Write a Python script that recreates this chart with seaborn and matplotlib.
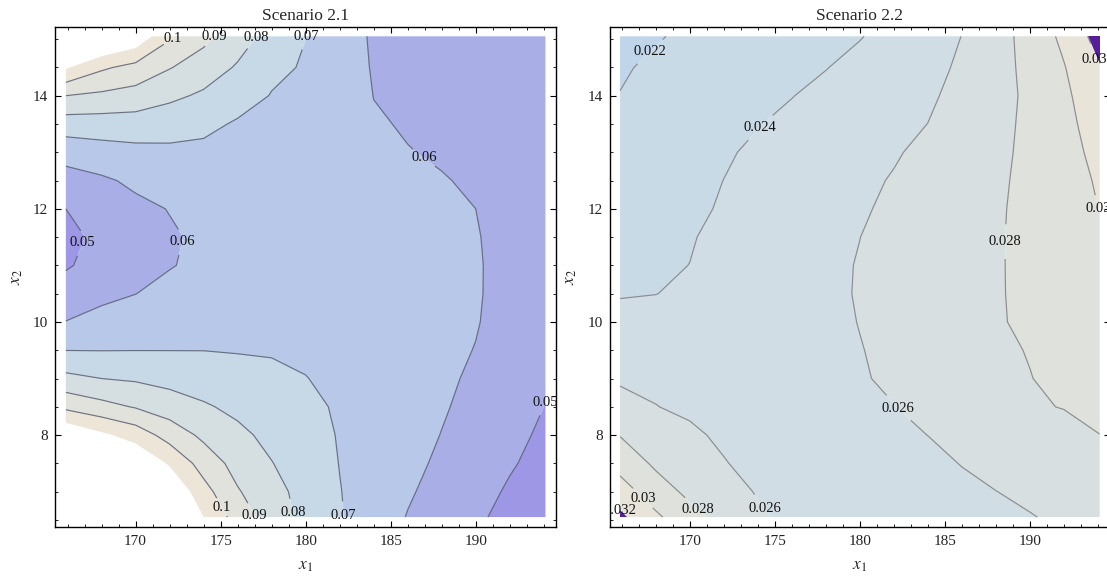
import numpy as np
import matplotlib
matplotlib.use("Agg")
import matplotlib.pyplot as plt
from matplotlib.ticker import MultipleLocator, FixedLocator
import seaborn as sns

# ---------------- data ----------------
x1_grid = [165.9, 168, 170, 172, 174, 176, 178, 180, 182, 184, 186, 188, 190, 192, 194.1]
x2_grid = [6.55, 7.0, 7.5, 8.0, 8.5, 9.0, 9.5, 10.0, 10.5, 11.0, 11.5, 12.0,
           12.5, 13.0, 13.5, 14.0, 14.5, 15.05]

# Scenario 2.1 : one list per x1 column (values from x2 = 6.55 up to 15.05)
s21_c0 = [0.180, 0.160, 0.140, 0.1195, 0.0977, 0.0826, 0.0699, 0.0602, 0.0543, 0.0490, 0.0471, 0.0500, 0.0561, 0.0638, 0.0751, 0.0900, 0.1112, 0.140]
s21_c1 = [0.160, 0.145, 0.130, 0.112, 0.0932, 0.0800, 0.0698, 0.0635, 0.0574, 0.0536, 0.0525, 0.0542, 0.0586, 0.0660, 0.0753, 0.0881, 0.1016, 0.125]
s21_c2 = [0.145, 0.130, 0.120, 0.1058, 0.0893, 0.0788, 0.0699, 0.0648, 0.0599, 0.0572, 0.0565, 0.0579, 0.0617, 0.0674, 0.0753, 0.0862, 0.0968, 0.118]
s21_c3 = [0.127, 0.120, 0.1088, 0.0959, 0.0850, 0.0769, 0.0699, 0.0662, 0.0626, 0.0595, 0.0590, 0.0603, 0.0642, 0.0681, 0.0740, 0.0821, 0.0905, 0.1015]
s21_c4 = [0.110, 0.1036, 0.0958, 0.0879, 0.0811, 0.0753, 0.0699, 0.0668, 0.0640, 0.0620, 0.0615, 0.0620, 0.0645, 0.0678, 0.0723, 0.0785, 0.0852, 0.0927]
s21_c5 = [0.0956, 0.0908, 0.0865, 0.0822, 0.0778, 0.0735, 0.0695, 0.0673, 0.0655, 0.0643, 0.0638, 0.0642, 0.0655, 0.0674, 0.0690, 0.0740, 0.0790, 0.0845]
s21_c6 = [0.0852, 0.0833, 0.0803, 0.0775, 0.0747, 0.0719, 0.0693, 0.0675, 0.0662, 0.0654, 0.0651, 0.0653, 0.0660, 0.0670, 0.0683, 0.0696, 0.0720, 0.0765]
s21_c7 = [0.0773, 0.0766, 0.0751, 0.0739, 0.0722, 0.0702, 0.0686, 0.0674, 0.0665, 0.0660, 0.0658, 0.0659, 0.0663, 0.0669, 0.0676, 0.0684, 0.0692, 0.0701]
s21_c8 = [0.0707, 0.0703, 0.0698, 0.0694, 0.0689, 0.0681, 0.0674, 0.0667, 0.0661, 0.0657, 0.0655, 0.0654, 0.0653, 0.0651, 0.0648, 0.0645, 0.0642, 0.0640]
s21_c9 = [0.0650, 0.0656, 0.0662, 0.0664, 0.0663, 0.0657, 0.0652, 0.0647, 0.0643, 0.0639, 0.0634, 0.0629, 0.0622, 0.0614, 0.0606, 0.0599, 0.0594, 0.0590]
s21_c10 = [0.0596, 0.0610, 0.0623, 0.0631, 0.0636, 0.0636, 0.0634, 0.0631, 0.0628, 0.0625, 0.0621, 0.0616, 0.0609, 0.0602, 0.0595, 0.0590, 0.0587, 0.0585]
s21_c11 = [0.0555, 0.0569, 0.0585, 0.0598, 0.0608, 0.0614, 0.0617, 0.0618, 0.0617, 0.0615, 0.0611, 0.0606, 0.0603, 0.0594, 0.0587, 0.0581, 0.0577, 0.0573]
s21_c12 = [0.0514, 0.0529, 0.0546, 0.0562, 0.0576, 0.0588, 0.0598, 0.0604, 0.0606, 0.0606, 0.0604, 0.0600, 0.0593, 0.0586, 0.0578, 0.0571, 0.0566, 0.0561]
s21_c13 = [0.0475, 0.0490, 0.0508, 0.0523, 0.0540, 0.0555, 0.0566, 0.0574, 0.0578, 0.0579, 0.0578, 0.0574, 0.0569, 0.0563, 0.0558, 0.0553, 0.0550, 0.0548]
s21_c14 = [0.0445, 0.0458, 0.0473, 0.0485, 0.0498, 0.0512, 0.0524, 0.0533, 0.0538, 0.0540, 0.0540, 0.0538, 0.0536, 0.0533, 0.0530, 0.0527, 0.0525, 0.0523]

# Scenario 2.2 : one list per x2 row (values from x1 = 165.9 to 194.1)
s22_r0 = [0.0324, 0.03036, 0.02863, 0.02733, 0.02627, 0.02563, 0.02535, 0.02518, 0.02512, 0.02518, 0.02532, 0.02553, 0.02591, 0.02632, 0.02672]
s22_r1 = [0.03093, 0.02891, 0.02756, 0.02667, 0.02588, 0.02545, 0.02525, 0.02518, 0.02524, 0.02541, 0.02566, 0.02598, 0.02637, 0.02675, 0.02712]
s22_r2 = [0.02926, 0.02768, 0.02688, 0.02608, 0.02555, 0.02527, 0.02517, 0.02522, 0.02537, 0.02562, 0.02605, 0.02653, 0.02697, 0.02735, 0.02768]
s22_r3 = [0.02793, 0.02705, 0.02625, 0.02575, 0.02548, 0.02535, 0.02535, 0.02545, 0.02565, 0.02601, 0.02650, 0.02697, 0.02738, 0.02772, 0.02797]
s22_r4 = [0.02669, 0.02603, 0.02575, 0.02562, 0.02556, 0.02556, 0.02562, 0.02573, 0.02597, 0.02646, 0.02695, 0.02743, 0.02791, 0.02803, 0.02880]
s22_r5 = [0.02575, 0.02572, 0.02570, 0.02570, 0.02571, 0.02574, 0.02579, 0.02588, 0.02623, 0.02666, 0.02708, 0.02751, 0.02794, 0.02858, 0.02930]
s22_r6 = [0.02509, 0.02515, 0.02522, 0.02531, 0.02542, 0.02555, 0.02570, 0.02596, 0.02625, 0.02669, 0.02713, 0.02757, 0.02811, 0.02875, 0.02940]
s22_r7 = [0.02443, 0.02455, 0.02475, 0.02498, 0.02522, 0.02546, 0.02572, 0.02603, 0.02647, 0.02692, 0.02737, 0.02782, 0.02835, 0.02895, 0.02950]
s22_r8 = [0.02391, 0.02398, 0.02425, 0.02462, 0.02498, 0.02535, 0.02571, 0.02609, 0.02653, 0.02697, 0.02741, 0.02785, 0.02838, 0.02898, 0.02960]
s22_r9 = [0.02365, 0.02383, 0.02401, 0.02442, 0.02484, 0.02525, 0.02566, 0.02608, 0.02652, 0.02696, 0.02740, 0.02785, 0.02840, 0.02900, 0.02960]
s22_r10 = [0.02338, 0.02365, 0.02392, 0.02429, 0.02471, 0.02514, 0.02556, 0.02599, 0.02645, 0.02691, 0.02738, 0.02784, 0.02843, 0.02910, 0.02980]
s22_r11 = [0.02312, 0.02346, 0.02379, 0.02410, 0.02453, 0.02496, 0.02538, 0.02581, 0.02632, 0.02681, 0.02730, 0.02779, 0.02845, 0.02922, 0.03003]
s22_r12 = [0.02285, 0.02325, 0.02363, 0.02401, 0.02442, 0.02484, 0.02525, 0.02567, 0.02611, 0.02664, 0.02718, 0.02772, 0.02841, 0.02927, 0.03020]
s22_r13 = [0.02259, 0.02302, 0.02343, 0.02384, 0.02424, 0.02464, 0.02505, 0.02545, 0.02585, 0.02638, 0.02700, 0.02762, 0.02837, 0.02936, 0.03050]
s22_r14 = [0.02232, 0.02274, 0.02314, 0.02354, 0.02394, 0.02435, 0.02476, 0.02518, 0.02559, 0.02601, 0.02675, 0.02750, 0.02836, 0.02945, 0.03090]
s22_r15 = [0.02203, 0.02243, 0.02280, 0.02317, 0.02355, 0.02396, 0.02441, 0.02486, 0.02532, 0.02577, 0.02645, 0.02735, 0.02835, 0.02962, 0.03130]
s22_r16 = [0.02186, 0.02222, 0.02257, 0.02291, 0.02326, 0.02360, 0.02395, 0.02447, 0.02501, 0.02556, 0.02622, 0.02730, 0.02850, 0.02990, 0.03190]
s22_r17 = [0.02150, 0.02190, 0.02223, 0.02257, 0.02290, 0.02324, 0.02358, 0.02392, 0.02456, 0.02528, 0.02602, 0.02725, 0.02867, 0.03044, 0.03280]

levels_21 = [0.05, 0.06, 0.07, 0.08, 0.09, 0.10]
clip_max_21 = 0.11          # values above this are left blank (white)
levels_22 = [0.022, 0.024, 0.026, 0.028, 0.030, 0.032]

titles = ["Scenario 2.1", "Scenario 2.2"]
x_ticks = [170, 175, 180, 185, 190]
y_ticks = [8, 10, 12, 14]

# ---------------- styling ----------------
colors_21 = ["#9d97e6", "#a9aee6", "#b8c8e8", "#c7d9e7", "#d5dfe2", "#e1e2dc", "#ece5d8"]
colors_22 = ["#c1d5ea", "#c9dae7", "#d1dde5", "#d8dfe1", "#dfe1dc", "#e8e4da", "#561e99"]

sns.set_style("ticks")
plt.rcParams.update({
    "font.family": ["Liberation Serif", "DejaVu Serif"],
    "mathtext.fontset": "stix",
    "xtick.direction": "in", "ytick.direction": "in",
    "xtick.top": True, "ytick.right": True,
    "axes.edgecolor": "black", "axes.linewidth": 1.0,
})

fig = plt.figure(figsize=(11.07, 5.81), dpi=100)
W, H = 1107.0, 581.0
ax1 = fig.add_axes([55.3 / W, 1 - 526.7 / H, 500.7 / W, 500.0 / H])
ax2 = fig.add_axes([609.5 / W, 1 - 526.7 / H, 500.7 / W, 500.0 / H])

X, Y = np.meshgrid(x1_grid, x2_grid)
Z21 = np.array([s21_c0, s21_c1, s21_c2, s21_c3, s21_c4, s21_c5, s21_c6, s21_c7,
                s21_c8, s21_c9, s21_c10, s21_c11, s21_c12, s21_c13, s21_c14]).T
Z22 = np.array([s22_r0, s22_r1, s22_r2, s22_r3, s22_r4, s22_r5, s22_r6, s22_r7, s22_r8,
                s22_r9, s22_r10, s22_r11, s22_r12, s22_r13, s22_r14, s22_r15, s22_r16, s22_r17])

labels_21 = [(172.3, 14.95), (174.9, 15.1), (177.2, 15.0), (180.0, 15.05),
             (187.0, 12.92), (166.7, 11.42), (172.7, 11.42), (194.1, 8.7),
             (174.9, 6.70), (177.1, 6.60), (179.3, 6.64), (182.1, 6.58)]
labels_22 = [(167.6, 14.8), (174.1, 13.45), (188.6, 11.42), (182.25, 8.47),
             (194.0, 12.0), (193.7, 14.6), (174.3, 6.67), (170.3, 6.62),
             (167.2, 6.87), (165.95, 6.68)]

pad_x = 0.62
pad_y = 0.17


def panel(ax, Z, levels, upper, colors, line_color, line_alpha, title, label_pos):
    ax.set_xlim(min(x1_grid) - pad_x, max(x1_grid) + pad_x)
    ax.set_ylim(min(x2_grid) - pad_y, max(x2_grid) + pad_y)
    bounds = [0.0] + list(levels) + [upper]
    ax.contourf(X, Y, Z, levels=bounds, colors=colors, antialiased=True)
    cs = ax.contour(X, Y, Z, levels=levels, colors=line_color, alpha=line_alpha,
                    linewidths=0.85)
    texts = ax.clabel(cs, manual=label_pos, inline=True, inline_spacing=1,
                      fmt=lambda v: f"{v:g}", fontsize=10.5, colors="black")
    for t in texts:
        t.set_rotation(0)
        t.set_alpha(1.0)
        t.set_color("#111111")
    ax.set_title(title, fontsize=12.5, pad=5)
    ax.set_xlabel("$x_1$", fontsize=12.5, labelpad=7)
    ax.set_ylabel("$x_2$", fontsize=12.5, labelpad=6)
    ax.xaxis.set_major_locator(FixedLocator(x_ticks))
    ax.yaxis.set_major_locator(FixedLocator(y_ticks))
    ax.xaxis.set_minor_locator(MultipleLocator(1))
    ax.yaxis.set_minor_locator(MultipleLocator(0.5))
    ax.tick_params(which="major", length=4.5, width=0.8, labelsize=11,
                   labelcolor="#222222", color="black")
    ax.tick_params(which="minor", length=2.5, width=0.6, color="black")
    ax.tick_params(axis="x", which="major", pad=6)
    ax.tick_params(axis="y", which="major", pad=5)
    for s in ax.spines.values():
        s.set_visible(True)
        s.set_linewidth(1.0)


panel(ax1, Z21, levels_21, clip_max_21, colors_21, "#50556a", 0.8, titles[0], labels_21)
panel(ax2, Z22, levels_22, 1.0, colors_22, "#777777", 0.8, titles[1], labels_22)

fig.savefig("out.png", dpi=100)
